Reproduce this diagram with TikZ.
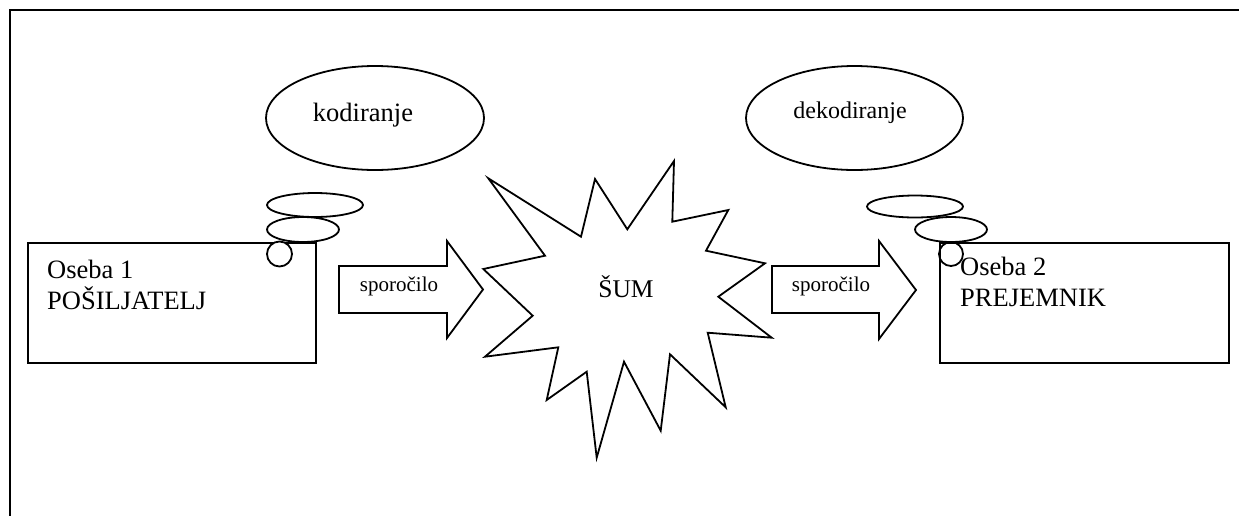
\documentclass[tikz,border=0pt]{standalone}
\usepackage{fontspec}
\setmainfont{Liberation Serif}
\usetikzlibrary{shapes.geometric}
\begin{document}
\begin{tikzpicture}[x=1pt,y=-1pt,
  shape line/.style={draw=black,line width=1.8pt,line join=miter},
  bubble/.style={ellipse,draw=black,line width=1.8pt,inner sep=0pt,fill=white},
  personbox/.style={rectangle,draw=black,line width=1.9pt,inner sep=0pt,anchor=north west},
  bigtext/.style={font=\fontsize{26.5}{31}\selectfont,inner sep=0pt},
  smalltext/.style={font=\fontsize{21}{25}\selectfont,inner sep=0pt,anchor=base}]
\useasboundingbox (0,0) rectangle (1239,515);
\fill[white] (0,0) rectangle (1239,515);
% outer frame (cropped)
\draw[line width=2.6pt] (10,530) -- (10,10) -- (1250,10);

% person boxes
\node[personbox,minimum width=288pt,minimum height=120pt] (box1) at (27,242) {};
\node[personbox,minimum width=289pt,minimum height=120pt] (box2) at (939,242) {};
\node[bigtext,anchor=north west,align=left] (t1) at (47,260) {Oseba 1\\POŠILJATELJ};
\node[bigtext,anchor=north west,align=left] (t2) at (960,257) {Oseba 2\\PREJEMNIK};

% thought bubbles, left
\node[bubble,minimum width=96pt,minimum height=24pt] (l3) at (315,205) {};
\node[bubble,minimum width=72pt,minimum height=25pt] (l2) at (303,229.5) {};
\node[bubble,circle,minimum size=25pt] (l1) at (279.5,254) {};
\node[bubble,minimum width=218pt,minimum height=104pt] (enc) at (375,118) {};
\node[bigtext,anchor=base] (enct) at (363,121) {kodiranje};

% thought bubbles, right
\node[bubble,minimum width=96pt,minimum height=22pt] (r3) at (915,206.5) {};
\node[bubble,minimum width=72pt,minimum height=25pt] (r2) at (951,229.5) {};
\node[bubble,circle,minimum size=24pt,fill=none] (r1) at (951,254) {};
\node[bubble,minimum width=217pt,minimum height=104pt] (dec) at (854.5,118) {};
\node[font=\fontsize{24}{28}\selectfont,inner sep=0pt,anchor=base] (dect) at (850,118) {dekodiranje};

% arrows
\draw[shape line] (339,266) -- (447,266) -- (447,241) -- (483,289.5) -- (447,338) -- (447,313) -- (339,313) -- cycle;
\node[smalltext] (m1) at (399,291.5) {sporočilo};
\draw[shape line] (772,266) -- (879,266) -- (879,241) -- (916,290) -- (879,339) -- (879,313) -- (772,313) -- cycle;
\node[smalltext] (m2) at (831,291.5) {sporočilo};

% noise star
\draw[shape line] (488.3,178.3) -- (581,236.7) -- (595,179) -- (627.3,229.3) -- (674,161)
  -- (672.3,221.7) -- (728.3,210) -- (706,250.7) -- (765,263.3) -- (718.3,296.7)
  -- (771.7,337.7) -- (707.7,332.7) -- (725.7,407.3) -- (670,354.3) -- (660.7,430.7)
  -- (624,361.7) -- (596.7,457.7) -- (586.7,371.7) -- (546.7,400) -- (558.3,347.3)
  -- (485,356.7) -- (532.7,315.7) -- (483.3,269) -- (545,255.7) -- cycle;
\node[font=\fontsize{25.5}{30}\selectfont,inner sep=0pt,anchor=base] (noise) at (626,297) {ŠUM};
\end{tikzpicture}
\end{document}
